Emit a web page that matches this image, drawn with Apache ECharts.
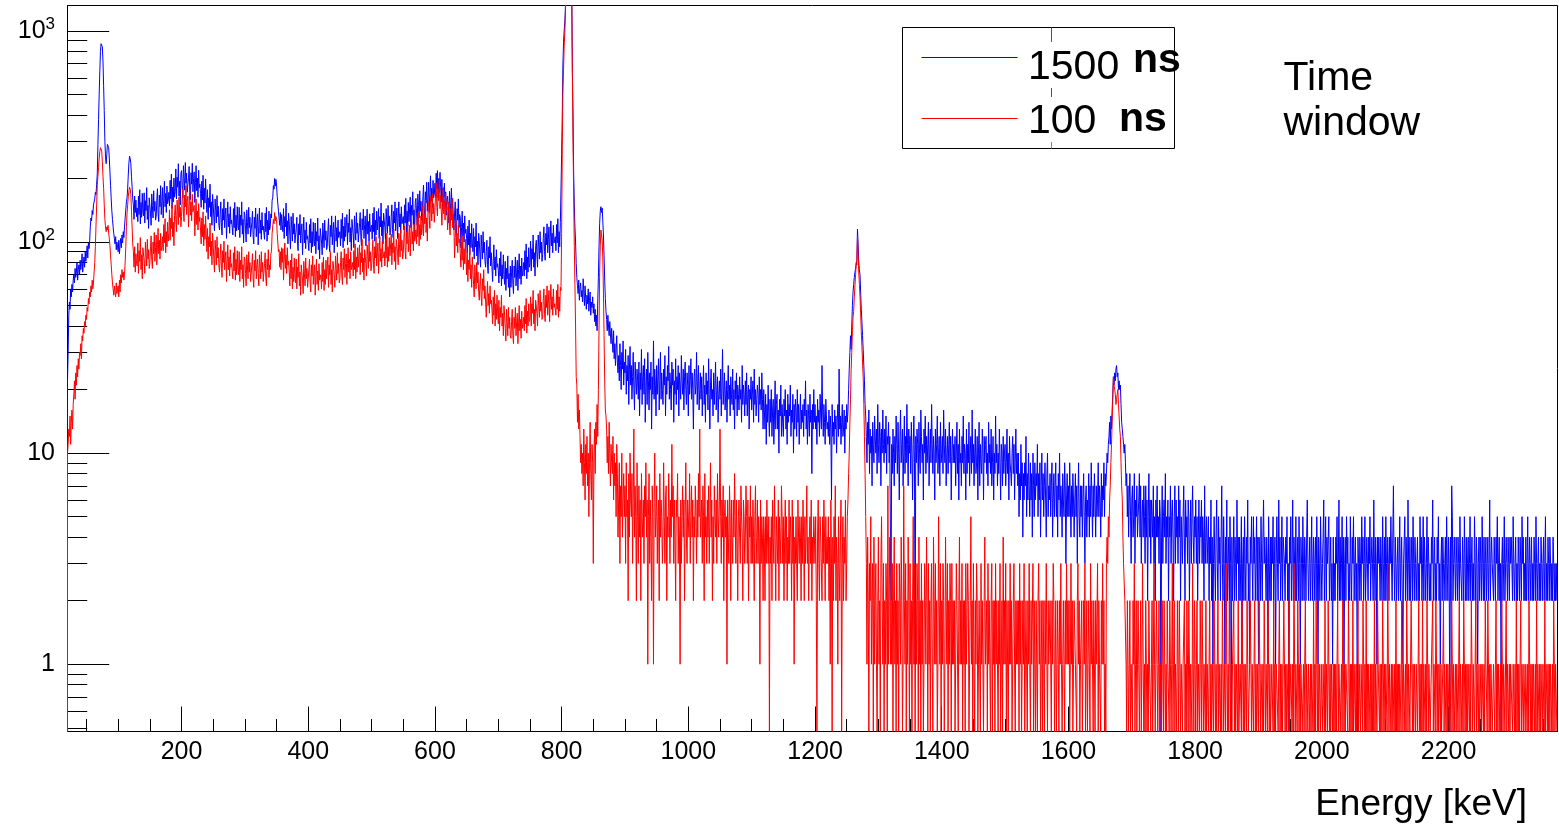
<!DOCTYPE html>
<html>
<head>
<meta charset="utf-8">
<script src="https://cdn.jsdelivr.net/npm/echarts@6/dist/echarts.min.js"></script>
<style>
  html, body { margin: 0; padding: 0; background: #fff; }
  #chart { width: 1559px; height: 825px; }
</style>
</head>
<body>
<div id="chart"></div>
<script>
// Gamma spectrum, counts per 1 keV bin, for two coincidence time windows.
const binStart = 20;      // keV, lower edge of the first bin
const binWidth = 1;       // keV
const rowSpan = 100;      // keV covered by each row below
const energyMin = 20;
const energyMax = 2372;
const countMin = 0.48;
const countMax = 1320;

const seriesNames = ['1500 ns', '100 ns'];
const seriesColors = ['#0000ff', '#ff0000'];
const xMajorTicks = [200, 400, 600, 800, 1000, 1200, 1400, 1600, 1800, 2000, 2200];
const yMajorTicks = [1, 10, 100, 1000];
const yMinorTicks = [0.5, 0.6, 0.7, 0.8, 0.9, 2, 3, 4, 5, 6, 7, 8, 9,
  20, 30, 40, 50, 60, 70, 80, 90, 200, 300, 400, 500, 600, 700, 800, 900];

// 1500 ns window, one row per 100 keV starting at 20 keV
const counts1500 = [
  [22,30,45,52,48,60,55,63,58,66, 70,64,75,68,72,80,66,74,78,70, 82,74,79,88,72,80,85,76,90,81, 88,96,84,99,93,102,118,130,126,141,
   135,150,148,160,172,168,188,210,290,380, 500,640,800,870,880,840,720,550,420,300, 255,235,260,290,294,280,250,215,185,160,
   140,128,118,110,104,98,106,92,100,95, 90,102,88,97,104,94,108,99,112,105, 118,130,142,155,162,180,210,238,255,248],
  [235,205,182,160,150,128,165,138,158,132, 145,125,165,135,177,122,154,131,170,138, 133,171,123,157,141,181,128,149,116,162,
   161,137,120,169,149,130,175,140,156,127, 132,158,179,137,125,167,147,185,135,156, 181,130,162,194,147,170,138,184,152,158,
   172,148,196,160,210,144,182,155,201,163, 173,222,160,203,182,235,165,194,150,211, 218,186,162,230,202,176,238,190,212,172,
   169,202,228,175,159,213,188,236,173,200],
  [215,154,192,230,175,201,163,219,181,188, 170,146,194,158,207,143,180,153,199,162, 138,177,128,162,146,188,132,155,120,168,
   152,130,113,160,141,123,166,132,148,120, 114,137,155,118,108,144,127,160,117,135, 145,104,129,155,118,136,110,147,122,127,
   126,108,144,117,154,106,134,113,147,120, 114,146,105,134,120,155,109,128,99,139, 134,115,100,142,124,109,146,117,131,106,
   104,124,140,107,98,131,116,145,106,123],
  [136,97,121,145,110,127,103,138,114,119, 120,103,137,112,146,101,127,108,140,114, 118,136,130,158,162,185,178,200,184,198,
   186,165,162,140,142,120,138,114,135,121, 112,144,104,132,118,153,107,126,98,137, 125,107,93,132,116,101,137,109,122,99,
   97,116,131,100,91,122,108,135,99,114, 122,87,109,131,99,114,93,124,103,107, 106,91,121,99,129,89,112,95,124,101,
   96,123,88,112,101,130,92,107,83,116],
  [117,100,87,123,108,94,127,102,113,92, 95,113,129,98,90,120,106,133,97,112, 124,89,111,133,101,117,95,127,105,109,
   112,96,128,104,137,94,119,101,131,106, 105,135,97,123,111,143,100,117,91,128, 127,108,94,133,117,102,138,110,123,100,
   102,122,138,106,96,129,114,143,104,121, 133,96,119,143,109,125,101,136,112,117, 120,103,137,112,146,101,127,108,140,114,
   112,144,104,132,118,153,107,126,98,137],
  [136,117,102,144,126,110,149,119,133,108, 111,132,150,115,105,140,123,155,113,131, 145,104,129,155,118,136,110,147,122,127,
   132,114,150,123,161,111,140,119,154,125, 127,163,117,149,134,173,121,142,110,155, 161,137,120,169,149,130,175,140,156,127,
   137,164,186,142,129,173,153,192,140,162, 192,138,172,206,156,180,146,196,162,168, 190,165,212,178,218,162,200,172,214,182,
   155,198,143,181,163,190,148,173,134,160],
  [165,141,123,174,153,134,180,144,161,131, 114,137,155,118,108,144,127,160,117,135, 131,94,117,140,107,123,100,133,110,115,
   104,89,119,97,127,87,110,94,122,99, 90,116,83,106,95,123,86,101,78,110, 102,87,76,108,95,83,112,89,100,81,
   76,90,102,78,71,95,84,106,77,89, 90,65,81,97,74,85,69,92,76,79, 74,64,84,69,90,62,78,67,87,70,
   63,81,59,75,67,86,61,71,55,77],
  [61,72,82,63,57,77,68,85,62,72, 82,59,74,88,67,77,63,84,69,72, 80,69,91,74,98,67,85,72,94,76,
   79,101,73,93,83,108,76,89,69,96, 102,87,76,108,95,83,112,89,100,81, 87,104,118,90,82,110,97,122,89,103,
   118,84,105,126,96,110,89,120,99,103, 106,91,121,99,129,89,112,95,124,123, 260,400,690,880,1000,1100,1300,2000,2700,3300,
   3500,3400,3000,2500,2100,1800,1500,640,400,212],
  [150,118,100,79,68,62,57,66,53,61, 64,55,59,52,67,58,50,62,54,48, 56,51,60,47,53,58,45,52,49,55,
   46,51,42,48,40,45,38,52,68,95, 122,140,147,138,145,126,108,86,66,54, 47,43,38,45,40,36,42,37,33,39,
   34,30,38,28,33,26,31,36,27,24, 29,22,33,26,20,30,25,34,21,27, 24,31,19,26,22,29,17,25,32,21,
   26,18,23,30,20,16,27,22,19,25],
  [22,18,27,15,24,20,31,17,23,26, 19,28,14,21,25,17,30,22,16,24, 20,27,13,23,19,34,18,25,21,15,
   26,19,23,28,16,22,30,18,24,20, 17,25,21,29,15,23,19,26,22,32, 18,24,20,16,27,21,25,14,22,19,
   28,17,23,20,26,15,24,21,18,29, 22,19,25,16,23,27,20,17,24,21, 15,26,19,22,28,18,24,20,13,23,
   25,19,21,30,17,22,26,16,20,24],
  [18,23,15,20,26,17,21,14,24,19, 22,16,28,19,13,21,25,18,20,15, 24,17,21,27,16,20,23,14,19,22,
   18,25,15,21,31,17,20,24,16,19, 22,14,20,26,18,21,15,23,19,17, 25,16,20,13,22,18,24,15,21,19,
   16,23,18,20,14,26,17,21,19,15, 22,17,24,15,19,21,13,20,18,23, 16,19,22,14,25,17,20,15,18,21,
   19,14,23,17,20,16,24,18,13,20],
  [16,13,19,11,17,14,21,15,12,18, 14,20,12,16,18,11,15,22,13,17, 19,13,16,10,18,15,21,12,17,14,
   12,18,15,20,13,16,11,19,14,17, 15,21,12,16,14,19,10,17,13,18, 16,12,20,14,17,11,15,19,13,16,
   14,17,12,18,15,22,13,16,11,17, 15,12,19,14,16,8,17,13,20,14, 17,13,15,11,18,14,16,12,19,15,
   13,26,16,12,17,14,11,18,15,13],
  [14,12,16,11,15,13,6,17,12,14, 11,16,13,15,10,14,17,12,25,13, 15,11,14,17,12,13,16,10,15,13,
   17,14,16,20,25,30,36,31,40,50, 58,63,68,72,75,80,78,115,98,80, 74,70,58,48,42,36,31,26,22,17,
   15,12,9,14,11,16,8,13,10,12, 7,14,11,9,15,12,10,13,8,17, 11,9,14,12,7,13,10,16,11,9,
   13,10,15,8,12,11,14,9,12,4],
  [2,11,8,13,10,7,12,9,15,11, 8,14,10,6,12,16,9,11,13,7, 10,15,8,12,9,17,11,7,13,10,
   12,8,14,10,6,11,15,9,1,12, 9,13,11,7,14,10,8,16,12,9, 11,6,13,10,15,8,12,9,11,14,
   7,10,13,9,17,11,8,12,10,6, 13,9,11,15,8,10,12,7,14,9, 10,12,8,16,11,9,13,7,10,12,
   8,11,14,9,12,6,10,13,9,11],
  [9,12,7,10,14,8,11,6,13,9, 10,7,12,9,15,8,11,10,6,13, 8,11,9,14,7,10,12,8,16,9,
   11,7,10,13,8,9,12,6,10,14, 7,11,9,8,13,10,6,12,9,11, 12,8,10,7,14,9,11,8,13,7,
   9,12,6,10,8,15,9,11,7,10, 8,13,9,6,11,10,7,12,8,10, 11,7,9,13,8,10,6,12,9,8,
   7,10,12,8,11,6,9,13,8,10],
  [7,10,5,8,6,11,7,9,4,8, 6,9,7,12,5,8,6,10,7,5, 9,6,8,4,10,7,5,9,6,8,
   7,11,5,8,6,9,4,7,10,6, 8,5,7,9,6,4,8,10,5,7, 6,8,5,7,9,4,6,8,5,7,
   9,5,7,4,8,6,10,5,7,6, 4,8,6,5,9,7,3,6,8,5, 7,5,9,6,4,7,5,8,6,4,
   6,8,5,7,3,6,9,5,4,7],
  [5,7,4,6,8,5,3,6,7,4, 6,5,8,4,7,5,9,6,4,7, 5,8,6,4,7,5,6,9,5,7,
   6,4,8,5,7,6,9,5,8,7, 8,10,9,11,12,14,11,15,13,16, 19,23,21,24,22,25,26,23,24,20,
   22,20,21,17,14,13,12,11,10,11, 9,7,8,5,7,4,6,8,5,3, 6,7,4,5,8,3,6,5,7,4,
   5,6,8,4,7,3,5,6,4,7],
  [5,3,7,4,6,2,5,8,4,6, 3,6,5,4,7,3,5,2,6,4, 7,4,5,3,6,5,0,4,7,3,
   5,6,4,8,3,5,4,6,2,5, 4,7,3,5,6,4,2,5,7,3, 6,4,5,3,7,4,6,2,5,4,
   3,5,7,4,2,6,4,5,3,6, 5,2,4,6,3,5,7,4,3,5, 4,6,3,5,2,4,6,3,5,4,
   6,3,5,4,2,7,3,4,5,3],
  [3,5,2,4,3,6,2,4,1,3, 5,3,2,4,6,3,2,5,3,4, 2,4,7,3,2,5,3,1,4,3,
   6,2,3,4,2,5,3,0,4,2, 3,5,2,4,3,2,6,3,4,2, 4,2,3,5,1,3,4,2,5,3,
   2,4,3,6,2,3,1,4,3,5, 3,2,5,3,4,2,3,5,2,4, 1,4,3,2,5,3,2,4,6,3,
   4,3,2,4,3,1,5,3,2,4],
  [2,4,3,5,2,3,4,1,3,5, 3,2,6,3,4,2,3,5,2,4, 4,3,2,4,3,5,2,3,0,4,
   3,5,2,3,6,2,4,3,2,5, 2,3,4,2,5,3,1,4,3,2, 5,3,2,4,3,2,4,6,3,2,
   3,4,2,3,5,2,3,4,2,3, 4,2,5,3,1,4,3,2,5,3, 2,3,4,6,2,3,5,2,4,3,
   3,5,2,3,4,2,3,1,4,2],
  [3,2,4,3,5,2,3,6,2,4, 2,3,5,2,4,1,3,4,2,5, 3,4,2,3,2,5,3,2,4,3,
   5,2,3,4,2,3,0,4,3,2, 4,3,2,5,3,4,2,3,5,2, 2,4,3,2,4,3,5,2,3,4,
   3,2,6,3,2,4,3,1,4,3, 4,3,2,4,3,2,5,3,2,4, 2,5,3,2,4,3,2,4,3,5,
   3,2,4,7,3,2,4,3,2,3],
  [4,2,3,5,2,3,4,2,1,3, 3,5,2,4,3,2,6,3,2,4, 2,3,4,2,5,3,2,4,3,2,
   3,4,2,3,2,5,3,4,2,3, 5,2,4,3,2,3,5,2,4,3, 2,3,2,4,3,6,2,3,4,2,
   3,2,4,3,5,2,3,1,3,4, 2,4,3,2,3,4,2,5,3,2, 4,3,0,4,2,7,5,2,3,4,
   3,2,4,3,2,4,3,2,5,3],
  [3,2,4,3,2,5,3,2,4,2, 3,4,2,3,5,2,3,4,2,3, 2,5,3,2,4,3,1,3,4,2,
   4,3,2,5,3,2,4,2,3,4, 2,3,4,2,3,6,2,3,4,3, 3,2,4,3,2,4,3,5,2,3,
   4,2,3,0,3,4,2,3,5,2, 2,4,3,2,4,3,2,4,3,4, 3,2,5,3,2,3,4,2,3,2,
   4,3,2,4,3,2,5,3,4,2],
  [3,2,4,2,3,5,2,3,4,2, 3,4,2,3,2,4,3,2,5,3, 2,3,4,2,3,2,4,3,2,3,
   4,2,3,5,2,3,2,4,3,2, 4,3,2,3,2,4,3,2,3,2, 3,2]
];

// 100 ns window, same binning
const counts100 = [
  [10,11,13,12,15,11,14,16,13,17, 19,22,18,24,21,26,23,28,25,30, 29,33,28,36,34,39,37,42,40,45, 43,49,47,54,51,58,55,62,58,66,
   60,64,72,80,95,120,150,185,205,225, 250,268,280,283,270,240,205,180,150,128, 118,112,118,114,120,110,104,96,86,78,
   70,64,60,56,62,58,55,64,57,60, 62,55,66,58,70,64,74,68,72,66, 70,80,95,118,137,150,165,175,182,178],
  [168,140,118,98,90,76,95,72,88,79, 77,99,71,91,81,105,74,87,67,94, 95,81,71,100,88,77,103,83,92,75,
   79,95,107,82,75,100,88,111,81,94, 108,78,97,116,88,102,83,110,91,95, 106,91,121,99,129,89,112,95,124,101,
   110,142,102,130,116,150,106,124,96,134, 150,128,112,158,139,121,163,131,146,118, 132,158,179,137,125,167,147,185,135,156,
   165,118,147,177,134,155,126,168,139,145],
  [149,107,133,160,121,140,114,152,125,131, 114,98,130,106,139,96,121,103,133,108, 90,116,83,106,95,123,86,101,78,110,
   97,83,72,102,90,78,106,84,94,77, 72,86,98,75,68,91,80,101,74,85, 90,65,81,97,74,85,69,92,76,79,
   78,67,89,73,95,66,83,70,91,74, 70,90,65,82,74,95,67,78,61,85, 83,71,62,87,77,67,90,72,80,65,
   65,78,88,67,61,82,73,91,67,77],
  [83,71,62,87,77,67,90,72,80,65, 66,79,89,68,62,83,74,92,68,78, 74,88,90,110,112,128,122,138,126,132,
   128,110,108,90,92,76,90,74,94,80, 93,66,83,99,75,87,71,94,78,81, 72,62,82,67,88,60,76,65,84,68,
   64,83,60,76,68,88,62,72,56,78, 77,66,57,81,71,62,84,67,75,61, 62,74,83,64,58,78,69,86,63,73,
   78,56,70,83,63,73,59,79,66,68],
  [70,60,80,65,85,59,74,63,82,67, 66,85,61,78,70,90,63,74,58,81, 81,70,61,86,75,66,89,71,79,64,
   67,80,90,69,63,84,74,93,68,79, 88,63,79,94,72,83,67,90,74,77, 80,69,91,74,98,67,85,72,94,76,
   75,97,70,89,80,103,72,84,66,92, 92,79,69,97,86,75,101,81,90,73, 76,90,102,78,71,95,84,106,77,89,
   99,71,89,106,81,93,76,101,84,87],
  [90,77,103,84,110,76,95,81,105,86, 85,109,78,99,89,115,81,95,74,103, 105,89,78,110,97,85,114,91,102,83,
   88,105,119,91,83,111,98,123,90,104, 120,86,107,128,98,112,91,122,101,105, 114,98,130,106,139,96,121,103,133,108,
   116,149,107,136,122,158,111,130,101,141, 156,133,116,165,145,126,170,136,152,124, 141,168,190,146,133,178,157,197,144,166,
   167,120,149,179,136,157,127,170,141,147],
  [114,137,155,118,108,144,127,160,117,135, 118,84,105,126,96,110,89,120,99,103, 88,76,100,82,107,74,93,79,103,84,
   70,90,65,82,74,95,67,78,61,85, 74,63,55,78,68,60,80,64,72,58, 53,63,71,55,50,67,59,74,54,62,
   61,44,55,65,50,57,46,62,51,53, 48,41,55,45,59,40,51,43,56,46, 41,53,38,49,44,56,40,46,36,50,
   45,39,34,48,42,36,49,39,44,36],
  [35,42,48,36,33,44,39,49,36,42, 46,33,41,50,38,43,35,47,39,41, 44,38,50,41,54,37,47,40,51,42,
   43,55,40,51,46,59,41,48,38,53, 54,46,40,57,50,44,59,47,52,43, 44,53,60,46,42,56,49,62,45,52,
   59,42,53,63,48,55,45,60,49,51, 52,45,59,48,63,44,55,47,61,59, 110,283,520,654,850,975,1200,1800,2600,3200,
   3500,3300,2900,2400,2000,1700,1450,605,290,170],
  [95,63,40,23,21,14,19,13,16,12, 9,11,8,10,7,13,9,6,11,8, 12,7,10,5,9,14,8,6,11,9,
   3,10,13,8,14,11,17,12,20,38, 72,96,114,108,102,84,58,36,22,16, 15,13,9,12,8,14,10,7,11,9,
   8,12,6,10,7,9,5,11,8,4, 6,9,3,7,5,10,4,6,8,5, 7,3,9,5,6,2,8,4,10,6,
   5,8,3,6,13,4,7,5,2,9],
  [5,3,7,4,6,2,8,5,4,6, 3,7,5,9,4,6,1,5,8,3, 6,4,2,7,5,1,6,10,4,5,
   7,3,5,6,2,8,4,6,5,3, 4,9,5,3,6,7,2,5,4,8, 5,3,6,4,11,5,7,3,6,4,
   2,6,5,8,3,5,4,1,6,3, 5,7,4,6,2,5,9,4,3,6, 6,4,8,3,5,7,4,6,2,5,
   4,7,5,3,6,4,8,5,13,4],
  [4,6,3,7,5,2,8,4,5,3, 6,4,7,3,5,9,4,6,2,5, 3,7,5,4,6,3,8,5,4,6,
   13,5,3,6,4,7,2,5,6,4, 5,1,6,4,3,7,5,2,6,4, 3,6,4,8,5,3,6,4,2,5,
   6,4,3,7,5,4,2,6,5,3, 4,7,5,3,6,2,5,4,7,3, 5,3,6,4,2,5,7,3,4,6,
   3,5,4,1,6,3,5,4,2,5],
  [4,2,5,3,6,4,3,5,0,4, 3,5,2,6,4,3,7,4,2,5, 4,3,6,2,5,4,3,7,5,3,
   5,2,4,6,3,5,2,4,3,6, 3,5,4,2,6,3,5,1,4,3, 5,3,2,6,4,3,5,4,2,5,
   3,6,4,2,5,3,4,7,3,4, 2,4,5,3,6,2,4,3,5,4, 3,5,2,0,4,6,3,2,5,4,
   4,2,5,3,6,4,2,5,3,4],
  [3,5,2,4,1,6,3,0,4,2, 5,3,7,2,4,3,1,5,3,2, 4,6,0,3,5,2,4,3,6,2,
   3,5,6,8,10,14,18,25,30,38, 44,47,55,62,70,78,82,107,88,72, 63,55,46,38,32,27,23,17,12,8,
   5,3,1,4,2,0,3,2,5,1, 2,3,0,4,1,2,3,1,0,2, 4,1,2,0,3,5,2,1,3,0,
   2,1,3,2,0,7,1,2,4,1],
  [2,1,3,0,2,4,1,2,0,3, 1,2,0,3,2,1,4,2,0,1, 7,2,1,3,0,2,1,4,2,0,
   3,1,2,0,2,5,1,3,0,2, 1,3,2,0,4,1,2,0,3,1, 2,0,1,3,2,1,4,2,0,3,
   1,2,0,2,3,1,0,4,2,1, 3,1,2,0,1,5,2,1,3,0, 2,1,3,2,0,1,4,2,1,3,
   0,2,1,3,2,0,3,1,2,1],
  [2,0,1,3,2,1,0,2,4,1, 2,1,3,0,2,1,2,0,3,1, 1,3,2,0,1,2,5,1,2,0,
   3,1,0,2,1,3,2,0,1,2, 2,0,3,1,2,1,0,2,4,1, 1,2,0,3,1,2,1,0,2,3,
   0,2,1,2,0,3,1,2,1,0, 2,1,3,0,1,2,0,4,1,2, 1,3,0,2,1,0,2,1,3,1,
   2,0,1,2,3,1,0,2,1,2],
  [1,2,0,3,1,2,0,1,2,1, 3,0,1,2,1,0,2,1,3,1, 0,2,1,1,3,0,2,1,0,2,
   1,0,2,3,1,2,0,1,2,0, 2,1,0,2,1,3,1,0,2,1, 1,2,1,0,2,1,3,2,0,1,
   2,0,1,2,1,0,2,1,3,1, 0,1,2,1,0,2,1,3,1,2, 1,2,0,1,3,1,2,0,1,2,
   2,1,1,0,2,3,1,2,0,1],
  [1,2,0,1,2,1,3,0,1,2, 0,1,2,1,0,3,1,2,1,0, 2,1,0,2,1,1,3,0,2,1,
   1,0,2,1,3,1,2,0,1,0, 3,4,3,5,4,6,7,9,11,14, 18,23,21,20,19,17,18,19,20,17,
   15,13,12,9,7,6,4,3,3,2, 2,1,0,2,1,0,1,2,0,1, 1,0,2,1,3,0,1,2,0,1,
   2,1,0,1,2,0,1,3,1,0],
  [1,0,2,1,0,1,0,2,1,1, 0,1,2,0,1,3,1,0,1,2, 1,0,1,2,0,1,1,0,2,1,
   0,2,1,0,1,0,2,1,1,0, 2,1,0,1,3,0,1,2,0,1, 1,0,2,1,0,2,1,0,1,1,
   0,1,1,2,0,1,0,2,1,0, 2,1,0,1,1,0,3,1,0,2, 1,0,1,2,0,1,1,0,2,1,
   0,2,1,0,1,1,0,2,0,1],
  [1,0,1,2,0,1,0,1,1,0, 2,1,0,1,0,1,2,0,1,1, 0,1,0,2,1,0,1,1,0,3,
   1,0,1,0,2,1,0,1,0,1, 1,2,0,1,0,1,1,0,2,0, 0,1,1,0,2,1,0,1,0,1,
   1,0,2,1,0,0,1,2,1,0, 1,1,0,1,2,0,1,0,1,1, 0,2,1,0,1,1,0,1,0,2,
   1,0,1,1,0,2,1,0,1,0],
  [0,1,1,0,2,0,1,0,1,1, 1,0,1,2,0,1,0,1,0,1, 2,1,0,1,0,1,1,0,2,0,
   0,1,1,0,1,0,3,1,0,1, 1,0,2,1,0,1,0,1,1,0, 0,1,0,1,2,0,1,1,0,1,
   1,0,1,0,1,1,0,2,0,1, 0,2,1,0,1,0,1,1,0,1, 1,0,1,1,0,2,0,1,1,0,
   2,1,0,1,0,1,1,0,1,0],
  [1,0,1,0,1,2,0,1,1,0, 0,1,0,2,1,0,1,0,1,1, 1,0,2,1,0,1,0,1,0,2,
   0,1,1,0,1,0,1,2,0,1, 1,0,1,1,0,2,1,0,1,0, 2,0,1,0,1,1,0,1,0,1,
   0,1,0,2,0,1,1,0,2,1, 1,0,1,0,1,0,2,1,0,1, 0,1,1,0,3,1,0,1,1,0,
   1,0,1,1,0,1,0,2,0,1],
  [0,1,0,1,1,0,2,1,0,1, 1,0,1,0,2,1,0,1,1,0, 0,2,1,0,1,0,1,1,0,1,
   1,0,1,2,0,1,0,1,0,2, 0,1,1,0,1,0,2,1,0,1, 1,0,0,1,1,2,0,1,1,0,
   2,1,0,1,0,1,1,0,1,0, 0,1,2,0,1,1,0,1,0,1, 1,0,1,1,0,2,1,0,1,0,
   0,1,0,1,1,0,1,2,0,1],
  [1,0,1,0,2,1,0,1,0,1, 0,1,1,0,1,0,2,1,0,1, 1,0,1,2,0,1,1,0,1,0,
   0,1,0,1,1,0,1,0,2,1, 1,0,2,1,0,1,0,1,1,0, 0,1,1,0,1,2,0,1,0,1,
   1,0,1,0,2,1,0,1,1,0, 0,2,0,1,1,0,1,0,1,1, 1,0,1,1,0,1,0,2,0,1,
   0,1,0,1,2,0,1,1,0,1],
  [1,0,1,1,0,1,0,2,1,0, 1,0,1,0,1,1,0,1,0,2, 0,1,1,0,1,0,1,1,0,1,
   1,0,2,0,1,1,0,1,0,1, 0,1,1,0,1,0,2,1,0,1, 1,0]
];

const FONT = '"Liberation Sans", Arial, Helvetica, sans-serif';

// Minor energy ticks every 50 keV
const xMinorStep = 50;
const xMinorTicks = [];
for (let e = xMinorStep; e < energyMax; e += xMinorStep) xMinorTicks.push(e);

// Histogram outline: each bin holds its value up to the next edge;
// empty bins drop to the floor of the log axis.
function toSteps(rows) {
  const pts = [[binStart, countMin]];
  rows.forEach((row, r) => {
    row.forEach((v, j) => {
      pts.push([binStart + r * rowSpan + j * binWidth, v > 0 ? v : countMin]);
    });
  });
  pts.push([energyMax, pts[pts.length - 1][1]]);
  return pts;
}

// Legend entries: number in regular weight, unit in bold
const legendEntries = seriesNames.map((name, i) => {
  const parts = name.split(' ');
  return { value: parts[0], unit: parts[1], color: seriesColors[i] };
});
const legendRows = [
  { lineY: 57.5, valueY: 67.5, unitX: 1133, unitY: 60.8 },
  { lineY: 118.5, valueY: 121.5, unitX: 1119, unitY: 119.2 }
];

const legendGraphics = [];
legendEntries.forEach((entry, i) => {
  const row = legendRows[i];
  legendGraphics.push(
    { type: 'line', z: 6, silent: true,
      shape: { x1: 921.5, y1: row.lineY, x2: 1017.5, y2: row.lineY },
      style: { stroke: entry.color, lineWidth: 1.2 } },
    { type: 'text', z: 6, silent: true, x: 1028, y: row.valueY,
      style: { text: entry.value, fontSize: 41, fontFamily: FONT, fill: '#000', align: 'left', verticalAlign: 'middle' } },
    { type: 'text', z: 6, silent: true, x: row.unitX, y: row.unitY,
      style: { text: entry.unit, fontSize: 41, fontWeight: 'bold', fontFamily: FONT, fill: '#000', align: 'left', verticalAlign: 'middle' } }
  );
});

const chart = echarts.init(document.getElementById('chart'), null, { renderer: 'canvas' });
const axisBlack = { color: '#000', width: 1 };

const option = {
  animation: false,
  backgroundColor: '#fff',
  textStyle: { fontFamily: FONT },
  grid: {
    left: 67.5, right: 1.5, top: 5.5, bottom: 93.5,
    containLabel: false, outerBoundsMode: 'none',
    show: true, borderColor: '#000', borderWidth: 1, backgroundColor: 'transparent'
  },
  xAxis: [
    {
      type: 'value', min: energyMin, max: energyMax, position: 'bottom',
      axisLine: { show: true, onZero: false, lineStyle: axisBlack },
      axisTick: { show: true, inside: true, length: 25, customValues: xMajorTicks, lineStyle: axisBlack },
      axisLabel: { show: true, customValues: xMajorTicks, margin: 8, color: '#000', fontSize: 25, fontFamily: FONT,
        formatter: (v) => String(v) },
      splitLine: { show: false }
    },
    {
      type: 'value', min: energyMin, max: energyMax, position: 'bottom',
      axisLine: { show: false, onZero: false },
      axisTick: { show: true, inside: true, length: 12.5, customValues: xMinorTicks, lineStyle: axisBlack },
      axisLabel: { show: false },
      splitLine: { show: false }
    }
  ],
  yAxis: [
    {
      type: 'log', logBase: 10, min: countMin, max: countMax, position: 'left',
      axisLine: { show: true, onZero: false, lineStyle: axisBlack },
      axisTick: { show: true, inside: true, length: 41.7, customValues: yMajorTicks, lineStyle: axisBlack },
      axisLabel: {
        show: true, customValues: yMajorTicks, margin: 12.5, color: '#000',
        fontSize: 25, fontFamily: FONT,
        formatter: (v) => {
          const e = Math.round(Math.log10(v));
          return e < 2 ? String(Math.round(v)) : '{b|10}{s|' + e + '}';
        },
        rich: {
          b: { fontSize: 25, lineHeight: 25, fontFamily: FONT, color: '#000', verticalAlign: 'bottom' },
          s: { fontSize: 17, lineHeight: 17, fontFamily: FONT, color: '#000', verticalAlign: 'bottom', padding: [7, 0, 10.6, 0] }
        }
      },
      splitLine: { show: false }
    },
    {
      type: 'log', logBase: 10, min: countMin, max: countMax, position: 'left',
      axisLine: { show: false, onZero: false },
      axisTick: { show: true, inside: true, length: 19.7, customValues: yMinorTicks, lineStyle: axisBlack },
      axisLabel: { show: false },
      splitLine: { show: false }
    }
  ],
  graphic: [
    { type: 'rect', z: 5, silent: true,
      shape: { x: 902.5, y: 27.5, width: 272, height: 121 },
      style: { fill: '#fff', stroke: '#000', lineWidth: 1 } },
    { type: 'line', z: 5, silent: true, shape: { x1: 1051.5, y1: 27.5, x2: 1051.5, y2: 42 }, style: { stroke: '#555', lineWidth: 1 } },
    { type: 'line', z: 5, silent: true, shape: { x1: 1051.5, y1: 88, x2: 1051.5, y2: 97 }, style: { stroke: '#555', lineWidth: 1 } },
    { type: 'line', z: 5, silent: true, shape: { x1: 1051.5, y1: 142, x2: 1051.5, y2: 148.5 }, style: { stroke: '#888', lineWidth: 1 } },
    ...legendGraphics,
    { type: 'text', z: 6, silent: true, left: 1283.5, top: 56.3,
      style: { text: 'Time\nwindow', fontSize: 41, fontFamily: FONT, lineHeight: 45, fill: '#000' } },
    { type: 'text', z: 6, silent: true, right: 32, top: 786.7,
      style: { text: 'Energy [keV]', fontSize: 37, fontFamily: FONT, lineHeight: 37, fill: '#000' } }
  ],
  series: seriesNames.map((name, i) => ({
    name: name, type: 'line', step: 'end', symbol: 'none', showSymbol: false,
    data: toSteps(i === 0 ? counts1500 : counts100),
    color: seriesColors[i],
    lineStyle: { width: 1, color: seriesColors[i] },
    clip: true, silent: true, z: 2 + i, xAxisIndex: 0, yAxisIndex: 0
  }))
};

chart.setOption(option);
</script>
</body>
</html>
